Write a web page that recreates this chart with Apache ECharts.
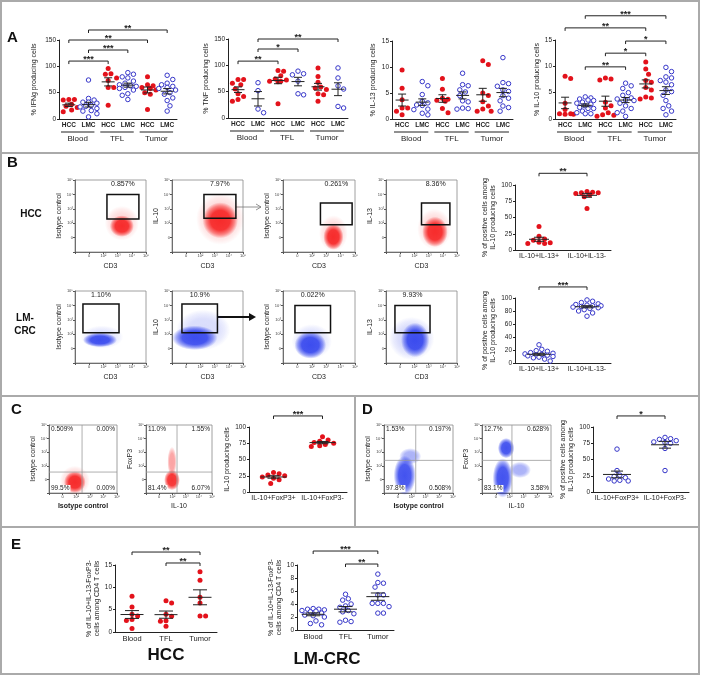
<!DOCTYPE html>
<html><head><meta charset="utf-8">
<script src="https://cdn.jsdelivr.net/npm/echarts@6/dist/echarts.min.js"></script>
<style>html,body{margin:0;padding:0;background:#fff}#c{width:701px;height:676px}</style>
</head><body><div id="c"></div><script>
// ---------------- DATA ----------------
const catsA = ['HCC','LMC','HCC','LMC','HCC','LMC'];
const kindA = ['r','b','r','b','r','b'];
const groupsA = ['Blood','TFL','Tumor'];
const ifng = [
  [37,36,37,28,24,22,17,14],
  [74,39,36,32,32,30,26,24,23,20,16,15,10,4],
  [96,86,85,78,73,60,60,26],
  [88,85,80,78,72,68,65,63,62,60,58,55,48,45,37],
  [80,65,63,60,58,55,50,47,18],
  [83,75,68,65,62,60,58,55,50,47,40,35,25,15]
];
const tnf = [
  [73,73,66,63,55,46,41,35,32],
  [67,52,17,10],
  [90,89,80,74,72,70,70,69,27],
  [89,84,82,70,46,44],
  [95,79,68,59,57,54,46,44,32],
  [95,76,61,55,22,19]
];
const il13 = [
  [9.4,5.9,3.7,2.1,2.1,1.5,0.8],
  [7.2,6.4,4.7,3.4,3.1,2.7,2.6,1.9,1.8,1.1,0.8],
  [7.8,5.7,4.0,3.8,3.6,3.4,2.0,1.2],
  [8.8,6.6,6.4,5.6,5.2,4.5,3.5,3.3,2.1,2.0,1.9],
  [11.2,10.5,5.0,4.5,3.3,2.5,1.9,1.5,1.5],
  [11.8,7.0,6.8,6.3,5.6,5.3,4.5,4.0,3.5,2.5,2.2,1.5]
];
const il10 = [
  [8.1,7.7,3.0,1.8,1.0,1.0,0.9,0.9],
  [4.2,4.0,3.8,3.6,3.5,3.2,3.0,2.8,2.5,2.2,2.0,2.0,1.5,1.2,1.0,1.0],
  [7.8,7.6,7.4,3.2,2.5,2.1,1.2,0.8,0.7,0.5],
  [6.8,6.3,5.8,5.0,4.5,4.0,3.8,3.6,3.5,3.0,2.5,2.0,1.5,1.2,0.5],
  [10.8,9.5,8.5,7.3,7.0,6.0,5.5,4.2,4.0,3.8],
  [9.8,9.0,8.0,7.8,7.3,7.0,6.5,5.5,5.2,4.5,3.5,2.5,2.0,1.5,0.8]
];
const sigIfng = [[0,2,'***'],[1,3,'***'],[0,4,'**'],[1,5,'**']];
const sigTnf  = [[0,2,'**'],[1,3,'*'],[1,5,'**']];
const sigIl10 = [[1,3,'**'],[2,4,'*'],[3,5,'*'],[0,4,'**'],[1,5,'***']];

const catsB = ['IL-10+IL-13+','IL-10+IL-13-'];
const bHcc = [[36,21,17,15,12,11,10,10],[90,89,88,88,87,85,82,64]];
const bLm  = [[28,21,19,18,16,15,14,13,12,12,11,10,9,8,6,3],[97,95,93,91,90,89,88,88,87,86,85,84,82,80,77,72]];
const catsC = ['IL-10+FoxP3+','IL-10+FoxP3-'];
const cHcc = [[30,28,26,25,23,21,19,13],[85,80,78,76,75,73,71,70]];
const dLm  = [[66,33,26,24,22,20,18,17,17],[84,82,81,79,77,76,75,67,33]];
const catsE = ['Blood','TFL','Tumor'];
const eHcc = [[8.0,5.6,4.0,3.6,2.8,2.6,0.8],[7.0,6.5,4.0,3.5,2.5,2.4,1.3],[13.5,11.6,7.8,6.5,3.6,3.6]];
const eLm  = [[3.3,3.2,3.2,3.1,3.0,2.9,2.8,2.6,2.3,2.2,2.0,1.4,1.0,0.8],
              [5.5,4.8,4.6,4.0,3.7,3.5,3.0,2.8,2.5,1.5,1.3,1.2],
              [8.6,7.3,7.2,6.6,5.4,5.4,4.1,4.1,4.1,3.6,2.6,2.6]];
const sigB = [[0,1,'**']], sigBL = [[0,1,'***']], sigC = [[0,1,'***']], sigD = [[0,1,'*']];
const sigEH = [[0,2,'**'],[1,2,'**']], sigEL = [[0,2,'***'],[1,2,'**']];

// flow cytometry: gate [x1,y1,x2,y2] and populations [cx,cy,spreadX,spreadY,alpha] in log decades
const flowTicks = ['', '0', '10²', '10³', '10⁴', '10⁵'];
const pctBHcc = ['0.857%','7.97%','0.261%','8.36%'];
const pctBLm  = ['1.10%','10.9%','0.022%','9.93%'];
const gatesBHcc = [[2.25,2.3,4.5,4.0],[2.25,2.35,4.5,4.0],[2.6,1.9,4.8,3.4],[2.5,1.9,4.5,3.4]];
const gatesBLm  = [[0.56,2.1,3.1,4.1],[0.7,2.1,3.2,4.1],[0.83,2.1,3.3,4.0],[0.63,2.1,3.1,4.0]];
const popBHcc = [
  [[3.3,1.8,1.7,1.5,1],[3.3,2.0,2.4,2.4,0.18]],
  [[3.4,2.2,2.5,2.5,1],[3.4,2.3,3.4,3.6,0.2]],
  [[3.5,1.05,1.4,1.8,1],[3.5,1.3,2.0,2.5,0.18]],
  [[3.45,1.4,1.8,2.1,1],[3.4,1.6,2.4,2.8,0.18]]
];
const popBLm = [
  [[1.76,1.6,2.4,1.0,1],[1.9,1.8,3.0,1.6,0.15]],
  [[1.6,1.75,3.2,1.7,1],[2.2,2.3,3.8,2.8,0.2]],
  [[1.9,1.25,2.2,1.9,1],[2.0,1.5,2.8,2.4,0.18]],
  [[2.05,1.6,2.0,2.4,1],[1.8,1.7,3.2,3.0,0.22]]
];
const quadC1 = ['0.509%','0.00%','99.5%','0.00%'];
const quadC2 = ['11.0%','1.55%','81.4%','6.07%'];
const quadD1 = ['1.53%','0.197%','97.8%','0.508%'];
const quadD2 = ['12.7%','0.628%','83.1%','3.58%'];
const popC1 = [[1.9,0.8,1.6,1.6,1],[1.9,0.9,2.2,2.2,0.2]];
const popC2 = [[1.97,0.95,1.2,1.5,1],[1.97,2.3,0.7,2.2,0.45]];
const popD1 = [[1.5,1.3,1.6,2.9,1],[1.9,2.7,1.6,1.2,0.45]];
const popD2 = [[1.5,1.1,1.45,2.9,1],[1.75,3.3,1.2,1.5,1],[2.75,1.7,1.6,1.2,0.45]];

// ---------------- STYLE / LAYOUT ----------------
const RED='#e3121b', BLUE='#3535c8', INK='#222';
const FONT='Arial, "Liberation Sans", Helvetica, sans-serif';
const RGB_RED=[245,0,0], RGB_BLUE=[20,40,235];
const opt = {animation:false, textStyle:{fontFamily:FONT}, grid:[], xAxis:[], yAxis:[], series:[], graphic:[]};

function swarm(vals, ppu, diam, maxOff){
  const order = vals.map((v,i)=>i).sort((a,b)=>vals[b]-vals[a]);
  const placed=[], off=new Array(vals.length).fill(0);
  const step=diam*0.5, cands=[0];
  for(let s=1;s*step<=maxOff;s++){cands.push(s*step,-s*step);}
  const thr=diam*0.95;
  for(const i of order){
    const y=vals[i]*ppu; let chosen=null, best=-1, bestDx=0;
    for(const dx of cands){
      let md=Infinity; for(const p of placed){md=Math.min(md,Math.hypot(p[0]-dx,p[1]-y));}
      if(md>=thr){chosen=dx;break;}
      if(md>best){best=md;bestDx=dx;}
    }
    if(chosen===null) chosen=bestDx;
    off[i]=chosen; placed.push([chosen,y]);
  }
  return off;
}
function addGrid(box){
  opt.grid.push({left:box[0], top:box[1], width:box[2], height:box[3], containLabel:false, outerBoundsMode:'none'});
  return opt.grid.length-1;
}
function dotPlot(c){
  const gi=addGrid(c.box);
  opt.xAxis.push({type:'category', gridIndex:gi, data:c.cats,
    axisLine:{show:true,lineStyle:{color:INK,width:1}}, axisTick:{show:false},
    axisLabel:{interval:0, fontSize:c.catFont, fontWeight:c.catBold?'bold':'normal', color:INK, margin:3}, splitLine:{show:false}});
  opt.yAxis.push({type:'value', gridIndex:gi, min:0, max:c.yMax, interval:c.yInt,
    name:c.yName, nameLocation:'middle', nameGap:c.nameGap, nameTextStyle:{fontSize:7, color:INK, lineHeight:8},
    axisLine:{show:true,lineStyle:{color:INK,width:1}}, axisTick:{show:true,length:2,lineStyle:{color:INK}},
    axisLabel:{fontSize:6.5,color:INK,margin:3}, splitLine:{show:false}});
  const ppu=c.box[3]/c.yMax, red=[], blue=[];
  const band=c.box[2]/c.cats.length;
  c.data.forEach((arr,ci)=>{
    const offs=swarm(arr,ppu,c.sym+0.6,band*(c.spread||0.36));
    arr.forEach((v,k)=>{(c.kind[ci]==='r'?red:blue).push({value:[ci,v],symbolOffset:[offs[k],0]});});
  });
  const ax={xAxisIndex:gi,yAxisIndex:gi,silent:true};
  opt.series.push(Object.assign({type:'scatter',data:red,symbolSize:c.sym,itemStyle:{color:RED,opacity:1},z:3},ax));
  opt.series.push(Object.assign({type:'scatter',data:blue,symbolSize:c.sym-0.5,itemStyle:{color:'#fff',borderColor:BLUE,borderWidth:1,opacity:1},z:3},ax));
  const stats=c.data.map((arr,ci)=>{const n=arr.length,m=arr.reduce((a,b)=>a+b,0)/n;
    const sd=Math.sqrt(arr.reduce((a,b)=>a+(b-m)*(b-m),0)/(n-1)); return [ci,m,sd/Math.sqrt(n)];});
  opt.series.push(Object.assign({type:'custom',z:4,data:stats,renderItem:(p,api)=>{
    const i=api.value(0),m=api.value(1),s=api.value(2);
    const pm=api.coord([i,m]),ph=api.coord([i,m+s]),pl=api.coord([i,Math.max(0,m-s)]);
    const mw=c.meanW/2,sw=c.semW/2,st={stroke:INK,lineWidth:1};
    return {type:'group',children:[
      {type:'line',shape:{x1:pm[0]-mw,y1:pm[1],x2:pm[0]+mw,y2:pm[1]},style:st},
      {type:'line',shape:{x1:ph[0],y1:ph[1],x2:pl[0],y2:pl[1]},style:st},
      {type:'line',shape:{x1:ph[0]-sw,y1:ph[1],x2:ph[0]+sw,y2:ph[1]},style:st},
      {type:'line',shape:{x1:pl[0]-sw,y1:pl[1],x2:pl[0]+sw,y2:pl[1]},style:st}]};
  }},ax));
  if(c.sig){
    opt.series.push(Object.assign({type:'custom',clip:false,z:5,data:c.sig.map((s,k)=>[s[0],s[1],c.levels[k]]),renderItem:(p,api)=>{
      const a=api.coord([api.value(0),api.value(2)]),b=api.coord([api.value(1),api.value(2)]);
      return {type:'group',children:[
        {type:'polyline',shape:{points:[[a[0],a[1]+3],[a[0],a[1]],[b[0],b[1]],[b[0],b[1]+3]]},style:{stroke:INK,lineWidth:1,fill:null}},
        {type:'text',style:{text:c.sig[p.dataIndex][2],x:(a[0]+b[0])/2,y:a[1]+3,align:'center',verticalAlign:'bottom',fontSize:9,fontWeight:'bold',fontFamily:FONT,fill:INK}}]};
    }},ax));
  }
  if(c.groups){
    opt.series.push(Object.assign({type:'custom',clip:false,z:5,data:c.groups.map((g,k)=>[2*k,2*k+1]),renderItem:(p,api)=>{
      const a=api.coord([api.value(0),0]),b=api.coord([api.value(1),0]);
      const bw=b[0]-a[0], x1=a[0]-bw*0.4, x2=b[0]+bw*0.3, y=a[1]+13;
      return {type:'group',children:[
        {type:'line',shape:{x1:x1,y1:y,x2:x2,y2:y},style:{stroke:INK,lineWidth:1.2}},
        {type:'text',style:{text:c.groups[p.dataIndex],x:(x1+x2)/2,y:y+3,align:'center',verticalAlign:'top',fontSize:8,fontFamily:FONT,fill:INK}}]};
    }},ax));
  }
}
function grad(rgb,a){
  const c=(al)=>'rgba('+rgb[0]+','+rgb[1]+','+rgb[2]+','+al+')';
  return {type:'radial',x:0.5,y:0.5,r:0.5,colorStops:[{offset:0,color:c(a)},{offset:0.55,color:c(a*0.95)},{offset:0.8,color:c(a*0.5)},{offset:1,color:c(0)}]};
}
function flowPlot(f){
  const gi=addGrid(f.box);
  opt.grid[gi].show=true; opt.grid[gi].borderColor='#888'; opt.grid[gi].borderWidth=0.8;
  const axBase={type:'value',gridIndex:gi,min:0,max:5,interval:1,splitLine:{show:false},
    axisLine:{show:true,lineStyle:{color:'#555',width:0.8}},axisTick:{show:true,length:2,lineStyle:{color:'#555'}},
    axisLabel:{fontSize:4,color:'#444',margin:2,formatter:v=>flowTicks[v]||''},nameLocation:'middle'};
  opt.xAxis.push(Object.assign({},axBase,{name:f.xName,nameGap:f.xGap||10,nameTextStyle:{fontSize:7,color:INK,fontWeight:f.xBold?'bold':'normal'}}));
  opt.yAxis.push(Object.assign({},axBase,{name:f.yName,nameGap:f.yGap||8,nameTextStyle:{fontSize:7,color:INK}}));
  const ppx=f.box[2]/5, ppy=f.box[3]/5;
  const ax={xAxisIndex:gi,yAxisIndex:gi,silent:true};
  opt.series.push(Object.assign({type:'scatter',z:2,data:f.pops.slice().reverse().map(p=>({value:[p[0],p[1]],symbolSize:[p[2]*ppx,p[3]*ppy],itemStyle:{color:grad(f.rgb,p[4])}}))},ax));
  if(f.gate){
    opt.series.push(Object.assign({type:'custom',clip:false,z:5,data:[f.gate],renderItem:(p,api)=>{
      const a=api.coord([api.value(0),api.value(1)]),b=api.coord([api.value(2),api.value(3)]);
      const t=api.coord([(api.value(0)+api.value(2))/2,5]);
      return {type:'group',children:[
        {type:'rect',shape:{x:Math.min(a[0],b[0]),y:Math.min(a[1],b[1]),width:Math.abs(b[0]-a[0]),height:Math.abs(b[1]-a[1])},style:{fill:null,stroke:'#111',lineWidth:1.5}},
        {type:'text',style:{text:f.pct,x:t[0],y:t[1]+1,align:'center',verticalAlign:'top',fontSize:7,fontFamily:FONT,fill:INK}}]};
    }},ax));
  }
  if(f.quad){
    opt.series.push(Object.assign({type:'custom',clip:false,z:5,data:[f.quad],renderItem:(p,api)=>{
      const qx=api.value(0),qy=api.value(1);
      const v1=api.coord([qx,0]),v2=api.coord([qx,5]),h1=api.coord([0,qy]),h2=api.coord([5,qy]);
      const tl=api.coord([0,5]),br=api.coord([5,0]);
      const st={stroke:'#999',lineWidth:0.8};
      const tx=(s,x,y,al,va)=>({type:'text',z2:10,style:{text:s,x:x,y:y,align:al,verticalAlign:va,fontSize:6.5,fontFamily:FONT,fill:INK,backgroundColor:'#fff',padding:[0,1]}});
      return {type:'group',children:[
        {type:'line',shape:{x1:v1[0],y1:v1[1],x2:v2[0],y2:v2[1]},style:st},
        {type:'line',shape:{x1:h1[0],y1:h1[1],x2:h2[0],y2:h2[1]},style:st},
        tx(f.quadText[0],tl[0]+1,tl[1]+1,'left','top'),
        tx(f.quadText[1],br[0]-1,tl[1]+1,'right','top'),
        tx(f.quadText[2],tl[0]+1,br[1]-1,'left','bottom'),
        tx(f.quadText[3],br[0]-1,br[1]-1,'right','bottom')]};
    }},ax));
  }
}

// ---------------- PANEL A ----------------
const aCommon={cats:catsA,kind:kindA,groups:groupsA,catFont:6.5,catBold:true,sym:5,meanW:13,semW:8,spread:0.5};
dotPlot(Object.assign({},aCommon,{box:[59,40,118,79],data:ifng,yMax:150,yInt:50,yName:'% IFNg producing cells',nameGap:21,sig:sigIfng,levels:[110,131,150,169]}));
dotPlot(Object.assign({},aCommon,{box:[228,39,120,79],data:tnf,yMax:150,yInt:50,yName:'% TNF producing cells',nameGap:15,sig:sigTnf,levels:[108,131,150]}));
dotPlot(Object.assign({},aCommon,{box:[392,41,121,78],data:il13,yMax:15,yInt:5,yName:'% IL-13 producing cells',nameGap:15}));
dotPlot(Object.assign({},aCommon,{box:[555,40,121,79],data:il10,yMax:15,yInt:5,yName:'% IL-10 producing cells',nameGap:14,sig:sigIl10,levels:[9.9,12.5,14.8,17.3,19.6]}));

// ---------------- PANEL B ----------------
const bx=[[75,71],[172,71],[283,72],[386,71]];
const bYNames=['Isotype control','IL-10','Isotype control','IL-13'];
bx.forEach((b,k)=>{
  flowPlot({box:[b[0],180,b[1],72],xName:'CD3',yName:bYNames[k],rgb:RGB_RED,pops:popBHcc[k],gate:gatesBHcc[k],pct:pctBHcc[k],xGap:11,yGap:8});
  flowPlot({box:[b[0],291,b[1],72],xName:'CD3',yName:bYNames[k],rgb:RGB_BLUE,pops:popBLm[k],gate:gatesBLm[k],pct:pctBLm[k],xGap:11,yGap:8});
});
const bName='% of positive cells among\nIL-10 producing cells';
dotPlot({box:[515,185,96,65],cats:catsB,kind:['r','r'],data:bHcc,yMax:100,yInt:25,yName:bName,nameGap:15,catFont:7,sym:5,meanW:20,semW:10,sig:sigB,levels:[118],spread:0.28});
dotPlot({box:[515,298,96,65],cats:catsB,kind:['b','b'],data:bLm,yMax:100,yInt:20,yName:bName,nameGap:15,catFont:7,sym:5,meanW:24,semW:12,sig:sigBL,levels:[117],spread:0.34});

// ---------------- PANEL C / D ----------------
flowPlot({box:[49,425,68,68],xName:'Isotype control',xBold:true,yName:'Isotype control',rgb:RGB_RED,pops:popC1,quad:[2.43,1.54],quadText:quadC1,xGap:10,yGap:7});
flowPlot({box:[146,425,66,68],xName:'IL-10',yName:'FoxP3',rgb:RGB_RED,pops:popC2,quad:[2.35,1.54],quadText:quadC2,xGap:10,yGap:7});
dotPlot({box:[249,427,98,65],cats:catsC,kind:['r','r'],data:cHcc,yMax:100,yInt:25,yName:'IL-10 producing cells',nameGap:14,catFont:7,sym:5,meanW:26,semW:12,sig:sigC,levels:[117],spread:0.28});
flowPlot({box:[384,425,69,68],xName:'Isotype control',xBold:true,yName:'Isotype control',rgb:RGB_BLUE,pops:popD1,quad:[2.3,2.4],quadText:quadD1,xGap:10,yGap:7});
flowPlot({box:[482,425,69,68],xName:'IL-10',yName:'FoxP3',rgb:RGB_BLUE,pops:popD2,quad:[2.17,2.4],quadText:quadD2,xGap:10,yGap:7});
dotPlot({box:[593,427,96,65],cats:catsC,kind:['b','b'],data:dLm,yMax:100,yInt:25,yName:bName,nameGap:15,catFont:7,sym:5,meanW:28,semW:12,sig:sigD,levels:[117],spread:0.28});

// ---------------- PANEL E ----------------
const eName='% of IL-10+IL-13-FoxP3-\ncells among CD4 T cells';
dotPlot({box:[115,565,102,67],cats:catsE,kind:['r','r','r'],data:eHcc,yMax:15,yInt:5,yName:eName,nameGap:11,catFont:7.5,sym:5,meanW:23,semW:14,sig:sigEH,levels:[17.9,15.45],spread:0.32});
dotPlot({box:[297,565,97,65],cats:catsE,kind:['b','b','b'],data:eLm,yMax:10,yInt:2,yName:eName,nameGap:11,catFont:7.5,sym:5,meanW:23,semW:14,sig:sigEL,levels:[12.15,10.15],spread:0.42});

// ---------------- FRAME / LABELS ----------------
const G=opt.graphic, BORD='#aaa';
G.push({type:'rect',shape:{x:1,y:1,width:698,height:673},style:{fill:null,stroke:BORD,lineWidth:2},silent:true});
[[153],[396],[527]].forEach(r=>G.push({type:'line',shape:{x1:1,y1:r[0],x2:699,y2:r[0]},style:{stroke:BORD,lineWidth:2},silent:true}));
G.push({type:'line',shape:{x1:355,y1:396,x2:355,y2:527},style:{stroke:BORD,lineWidth:2},silent:true});
const txt=(s,x,y,size,w,al)=>({type:'text',x:x,y:y,style:{text:s,fontSize:size,fontWeight:w||'normal',fontFamily:FONT,fill:'#111',align:al||'left',verticalAlign:'middle'},silent:true});
G.push(txt('A',7,38,15,'bold'));
G.push(txt('B',7,163,15,'bold'));
G.push(txt('C',11,410,15,'bold'));
G.push(txt('D',362,410,15,'bold'));
G.push(txt('E',11,545,15,'bold'));
G.push(txt('HCC',31,214,10,'bold','center'));
G.push({type:'text',x:25,y:325,style:{text:'LM-\nCRC',fontSize:10,fontWeight:'bold',fontFamily:FONT,fill:'#111',align:'center',verticalAlign:'middle',lineHeight:13},silent:true});
G.push(txt('HCC',166,655,17,'bold','center'));
G.push(txt('LM-CRC',327,659,17,'bold','center'));
// arrows
G.push({type:'line',shape:{x1:236,y1:207,x2:261,y2:207},style:{stroke:'#777',lineWidth:0.8},silent:true});
G.push({type:'polyline',shape:{points:[[256,204],[261,207],[256,210]]},style:{stroke:'#777',lineWidth:0.8,fill:null},silent:true});
G.push({type:'line',shape:{x1:218,y1:317,x2:250,y2:317},style:{stroke:'#111',lineWidth:2},silent:true});
G.push({type:'polygon',shape:{points:[[249,313],[256,317],[249,321]]},style:{fill:'#111'},silent:true});

const chart=echarts.init(document.getElementById('c'),null,{renderer:'canvas'});
chart.setOption(opt);
</script></body></html>
